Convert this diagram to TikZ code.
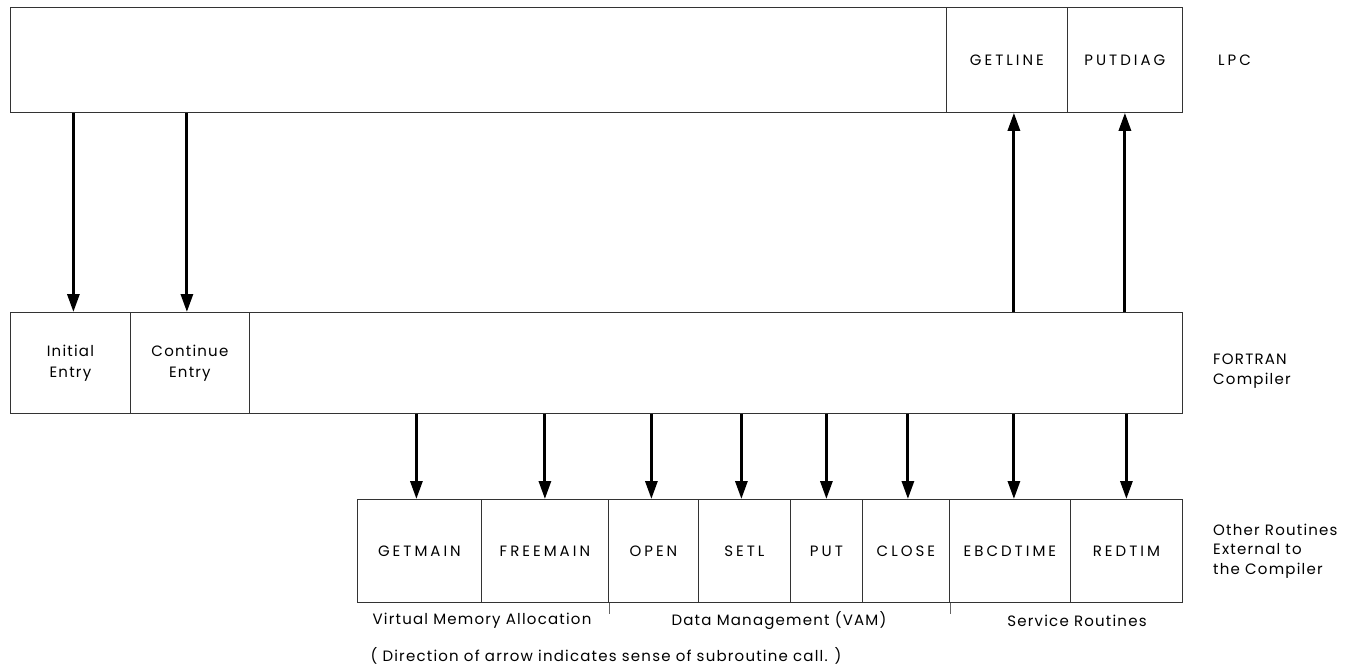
\documentclass[tikz,border=0pt]{standalone}
\usepackage{fontspec}
\setmainfont{Poppins}[LetterSpace=8]
\newfontfamily\capsfont{Poppins}[LetterSpace=20]
\usetikzlibrary{arrows.meta,calc}
\begin{document}
\begin{tikzpicture}[x=1pt,y=-1pt,
  box/.style={draw=black!80,line width=0.8pt,minimum height=#1,inner sep=0pt,align=center,
     font=\fontsize{15}{21}\selectfont},
  capbox/.style={box=#1,font=\capsfont\fontsize{15}{21}\selectfont},
  lbl/.style={inner sep=0pt,align=left,font=\fontsize{15}{19.5}\selectfont},
  callarrow/.style={line width=3pt,-{Triangle[length=18pt,width=12pt]}},
  tick/.style={draw=black!60,line width=0.6pt}]
\useasboundingbox (0,0) rectangle (1354,670);
% top row
\node[box=105pt,minimum width=936pt,anchor=north west] (lpc) at (10,7) {};
\node[capbox=105pt,minimum width=121pt,anchor=north west] (getline) at (946,7) {GETLINE};
\node[capbox=105pt,minimum width=115pt,anchor=north west] (putdiag) at (1067,7) {PUTDIAG};
\node[lbl,font=\capsfont\fontsize{15}{19.5}\selectfont,anchor=west] (lpclbl) at (1218,60) {LPC};
% middle row
\node[box=101pt,minimum width=120pt,anchor=north west] (ie) at (10,312) {Initial\\Entry};
\node[box=101pt,minimum width=119pt,anchor=north west] (ce) at (130,312) {Continue\\Entry};
\node[box=101pt,minimum width=933pt,anchor=north west] (fort) at (249,312) {};
\node[lbl,anchor=west] (fortlbl) at (1213,371) {FORTRAN\\Compiler};
% bottom row
\node[capbox=103pt,minimum width=124pt,anchor=north west] (getmain) at (357,499) {GETMAIN};
\node[capbox=103pt,minimum width=127pt,anchor=north west] (freemain) at (481,499) {FREEMAIN};
\node[capbox=103pt,minimum width=90pt,anchor=north west] (open) at (608,499) {OPEN};
\node[capbox=103pt,minimum width=92pt,anchor=north west] (setl) at (698,499) {SETL};
\node[capbox=103pt,minimum width=72pt,anchor=north west] (put) at (790,499) {PUT};
\node[capbox=103pt,minimum width=87pt,anchor=north west] (close) at (862,499) {CLOSE};
\node[capbox=103pt,minimum width=121pt,anchor=north west] (ebcd) at (949,499) {EBCDTIME};
\node[capbox=103pt,minimum width=112pt,anchor=north west] (redtim) at (1070,499) {REDTIM};
\node[lbl,anchor=west] (otherlbl) at (1213,551) {Other Routines\\External to\\the Compiler};
% group labels
\node[lbl] (vma) at (482,621) {Virtual Memory Allocation};
\node[lbl] (dm) at (779,621) {Data Management (VAM)};
\node[lbl] (sr) at (1077,621) {Service Routines};
\node[lbl] (cap) at (606,656) {( Direction of arrow indicates sense of subroutine call. )};
\draw[tick] (freemain.south east) -- ++(0,11);
\draw[tick] (close.south east) -- ++(0,11);
% arrows top -> middle
\draw[callarrow] ($(ie.north |- lpc.south)+(3,0)$) -- ($(ie.north)+(3,0)$);
\draw[callarrow] ($(ce.north |- lpc.south)+(-3,0)$) -- ($(ce.north)+(-3,0)$);
% arrows middle -> top
\draw[callarrow] ($(getline.south |- fort.north)+(7,0)$) -- ($(getline.south)+(7,0)$);
\draw[callarrow] (putdiag.south |- fort.north) -- (putdiag.south);
% arrows middle -> bottom
\draw[callarrow] ($(getmain.north |- fort.south)+(-3,0)$) -- ($(getmain.north)+(-3,0)$);
\draw[callarrow] (freemain.north |- fort.south) -- (freemain.north);
\draw[callarrow] ($(open.north |- fort.south)+(-2,0)$) -- ($(open.north)+(-2,0)$);
\draw[callarrow] ($(setl.north |- fort.south)+(-3,0)$) -- ($(setl.north)+(-3,0)$);
\draw[callarrow] (put.north |- fort.south) -- (put.north);
\draw[callarrow] ($(close.north |- fort.south)+(2,0)$) -- ($(close.north)+(2,0)$);
\draw[callarrow] ($(ebcd.north |- fort.south)+(4,0)$) -- ($(ebcd.north)+(4,0)$);
\draw[callarrow] (redtim.north |- fort.south) -- (redtim.north);
\end{tikzpicture}
\end{document}
